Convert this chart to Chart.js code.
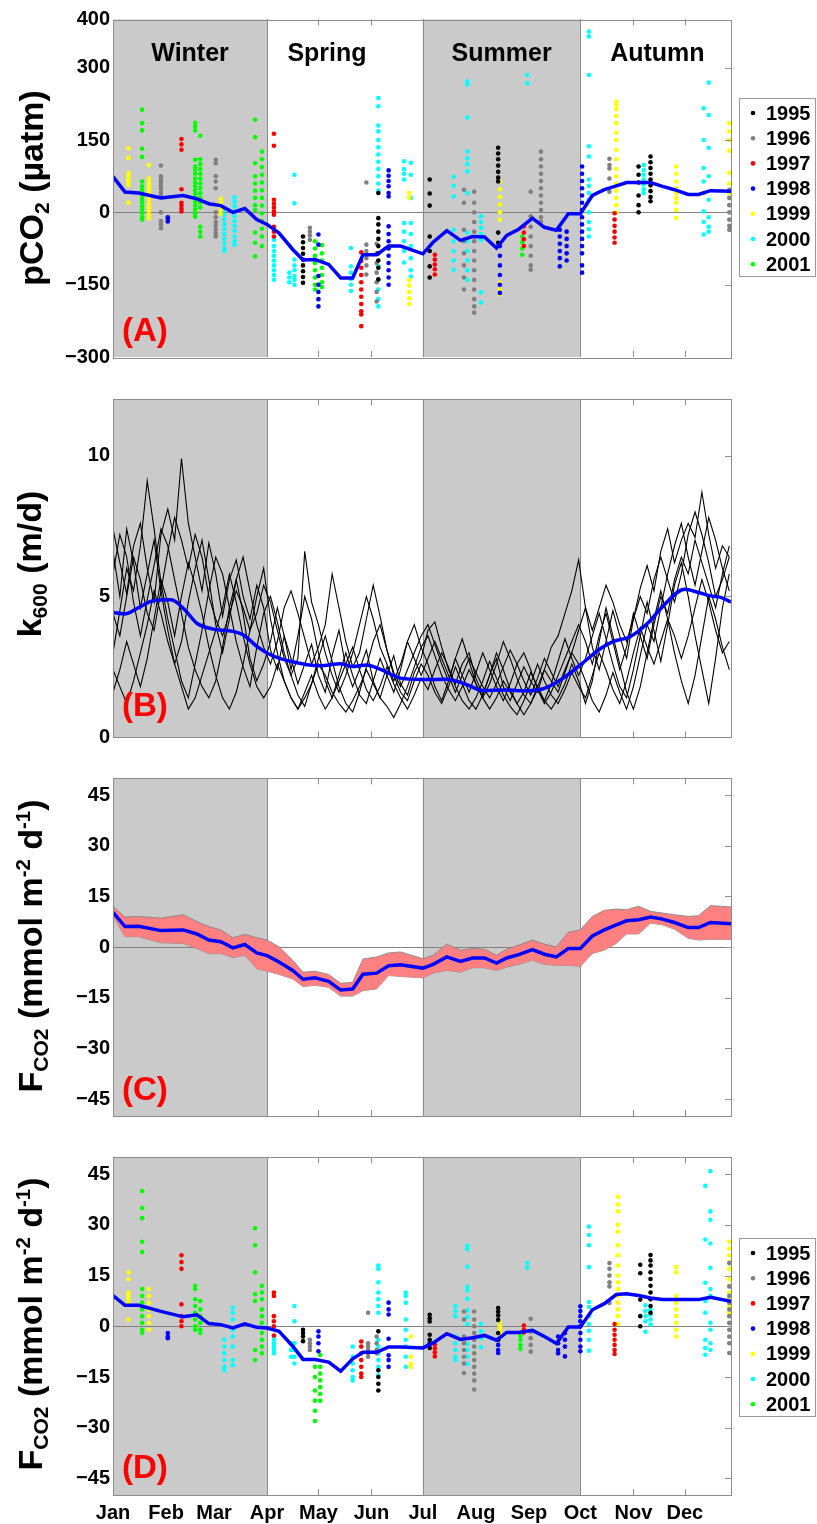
<!DOCTYPE html>
<html>
<head>
<meta charset="utf-8">
<title>pCO2, k600 y flujo de CO2</title>
<script src="https://cdn.jsdelivr.net/npm/chart.js@4.4.1/dist/chart.umd.min.js"></script>
<style>
  body { margin: 0; background: #fff; }
  #wrap { position: relative; width: 817px; height: 1524px; font-family: "Liberation Sans", Arial, sans-serif; }
  #wrap canvas { position: absolute; left: 0; }
  .ytitle { position: absolute; font-weight: bold; font-size: 34px; line-height: 1; white-space: nowrap;
            transform: translate(-50%, -50%) rotate(-90deg); color: #000; }
  .ytitle sub { font-size: 0.62em; vertical-align: -0.28em; }
  .ytitle sup { font-size: 0.6em; vertical-align: 0.62em; }
</style>
</head>
<body>
<div id="wrap">
  <canvas id="chartPco2" width="817" height="380" style="top:0px"></canvas>
  <canvas id="chartK600" width="817" height="380" style="top:380px"></canvas>
  <canvas id="chartFlujo" width="817" height="380" style="top:760px"></canvas>
  <canvas id="chartFlujoAnual" width="817" height="384" style="top:1140px"></canvas>
  <div class="ytitle" style="left:33px;top:188px">pCO<sub>2</sub> (µatm)</div>
  <div class="ytitle" style="left:31px;top:564px">k<sub>600</sub> (m/d)</div>
  <div class="ytitle" style="left:32px;top:946px">F<sub>CO2</sub> (mmol m<sup>-2</sup> d<sup>-1</sup>)</div>
  <div class="ytitle" style="left:32px;top:1324px">F<sub>CO2</sub> (mmol m<sup>-2</sup> d<sup>-1</sup>)</div>
</div>
<script>
// eje x en dias del año
const monthDays = [0, 31, 59, 90, 120, 151, 181, 212, 243, 273, 304, 334];
const monthNames = ["Jan", "Feb", "Mar", "Apr", "May", "Jun", "Jul", "Aug", "Sep", "Oct", "Nov", "Dec"];
const seasonNames = ["Winter", "Spring", "Summer", "Autumn"];
const years = ["1995", "1996", "1997", "1998", "1999", "2000", "2001"];

const pco2Ticks = [-300, -150, 0, 150, 300, 400];
const k600Ticks = [0, 5, 10];
const fluxTicks = [-45, -30, -15, 0, 15, 30, 45];

// medias (linea azul) de A, C y D
const meanDays = [0, 7, 15, 28, 41, 49, 56, 63, 70, 77, 84, 90, 97, 105, 111, 118, 126, 133, 140, 146,
  154, 161, 168, 181, 187, 195, 203, 210, 217, 224, 230, 237, 245, 252, 259, 266, 273, 280, 287, 294,
  300, 307, 314, 321, 328, 336, 342, 349, 361];
const pco2Mean = [74, 42, 40, 30, 35, 28, 18, 14, 0, 8, -15, -25, -43, -77, -99, -98, -108, -136, -136, -88,
  -88, -70, -70, -86, -62, -38, -58, -50, -51, -74, -48, -35, -12, -31, -37, -3, -3, 35, 47, 55,
  62, 62, 62, 54, 47, 37, 37, 45, 44];
const fluxMean = [10.3, 6.1, 6.2, 4.9, 5.1, 3.9, 2.1, 1.6, -0.2, 0.8, -1.7, -2.5, -4.4, -6.9, -9.5, -9.1, -10.1, -12.7, -12.4, -8,
  -7.7, -5.5, -5.2, -6.2, -5.1, -2.9, -4.2, -3.2, -3.2, -4.7, -3.2, -2.2, -0.7, -2.1, -2.9, -0.4, -0.4, 3.3, 5.1, 6.6,
  7.8, 8.1, 8.9, 8.3, 7.3, 5.8, 5.8, 7.3, 6.9];
const fluxUpper = [12.1, 8.9, 9.1, 8.6, 9.6, 7.6, 6.1, 5.1, 2.8, 3.8, 2.8, 2.1, 0.1, -3.9, -7.4, -7.1, -8.1, -10.7, -10.4, -3.5,
  -2.9, -1.7, -1.4, -3.4, -2.4, 0.9, -0.9, -0.4, -0.6, -2.4, -0.6, 0.6, 2.1, 0.9, 0.1, 4.4, 5.1, 9.1, 10.9, 11.3,
  11.1, 12.1, 10.6, 10.1, 9.6, 9.1, 9.3, 12.3, 11.9];
const fluxLower = [9.3, 3.1, 3.1, 1.3, 1.1, -0.4, -1.9, -1.9, -3.1, -2.4, -6.4, -7.1, -8.1, -9.4, -11.7, -11.3, -11.9, -14.5, -14.5, -12.9,
  -12.4, -8.4, -8.7, -9.1, -7.7, -6.9, -7.4, -6.1, -6.1, -6.9, -5.9, -5.1, -3.9, -5.1, -5.4, -5.4, -5.7, -1.9, -0.9, 1.1,
  3.9, 3.9, 7.1, 6.6, 5.3, 2.6, 2.1, 2.3, 2.3];
const fluxMeanAnual = [9.1, 6.2, 6.2, 4.4, 2.8, 3.4, 0.8, 0.5, -0.5, 0.7, -0.3, -0.5, -1.5, -5.9, -9.8, -9.8, -10.6, -13.3, -9.6, -7.7,
  -7.7, -6.1, -6.1, -6.4, -4.9, -2.2, -3.9, -3.4, -2.7, -4.1, -1.8, -1.8, -1.2, -3, -5.1, -0.2, -0.2, 4.9, 6.7, 9.4,
  9.6, 9.1, 8.4, 7.9, 7.9, 7.9, 7.9, 8.6, 7.4];

// k600 media suavizada
const kMeanDays = [0, 7, 16, 23, 34, 42, 49, 59, 70, 76, 84, 92, 104, 121, 133, 140, 148, 156, 168, 181,
  195, 207, 216, 229, 242, 252, 263, 273, 285, 292, 302, 312, 321, 334, 342, 349, 355, 361];
const kMean = [4.43, 4.38, 4.64, 4.84, 4.88, 4.52, 4.05, 3.84, 3.76, 3.64, 3.23, 2.93, 2.69, 2.54, 2.61, 2.51, 2.57, 2.42, 2.1, 2.05,
  2.06, 1.86, 1.66, 1.68, 1.65, 1.74, 2.1, 2.57, 3.16, 3.4, 3.57, 4.03, 4.64, 5.26, 5.14, 5.02, 4.97, 4.8];

// k600 diario de cada serie (cada 4 dias)
const kDays = [0, 4, 8, 12, 16, 20, 24, 28, 32, 36, 40, 44, 48, 52, 56, 60, 64, 68, 72, 76, 80, 84, 88,
  92, 96, 100, 104, 108, 112, 116, 120, 124, 128, 132, 136, 140, 144, 148, 152, 156, 160, 164, 168, 172, 176, 180,
  184, 188, 192, 196, 200, 204, 208, 212, 216, 220, 224, 228, 232, 236, 240, 244, 248, 252, 256, 260, 264, 268, 272,
  276, 280, 284, 288, 292, 296, 300, 304, 308, 312, 316, 320, 324, 328, 332, 336, 340, 344, 348, 352, 356, 360];
const k600Run1 = [7.4, 6.2, 5.1, 6.8, 7.6, 6.0, 4.8, 7.2, 8.1, 7.0, 9.9, 7.6, 6.4, 5.2, 6.9, 5.8, 4.3, 5.6, 6.3, 5.0, 4.2, 5.4, 4.6,
  3.1, 2.4, 3.6, 2.8, 1.9, 2.6, 3.3, 2.2, 1.6, 2.9, 3.8, 2.5, 1.8, 2.4, 3.1, 2.0, 1.4, 2.2, 2.9, 1.9, 1.5, 2.3, 2.8,
  3.8, 4.1, 3.2, 2.4, 1.9, 2.6, 3.0, 2.1, 1.5, 2.2, 2.8, 1.8, 1.3, 1.9, 2.5, 2.0, 1.6, 2.4, 3.2, 3.6, 4.4, 5.2, 6.3,
  4.6, 3.2, 2.4, 3.4, 4.5, 3.6, 2.8, 4.2, 5.3, 6.1, 5.2, 6.6, 7.4, 6.2, 7.0, 7.6, 7.1, 8.7, 7.2, 6.0, 6.8, 6.4];
const k600Run2 = [3.0, 4.5, 6.0, 5.2, 6.8, 9.1, 7.4, 5.5, 4.2, 3.1, 2.0, 1.4, 2.6, 3.8, 5.2, 6.4, 5.8, 4.6, 3.4, 2.5, 1.8, 3.2, 4.4,
  5.0, 4.1, 3.0, 2.2, 1.5, 1.1, 1.9, 2.8, 3.6, 2.7, 1.8, 1.2, 0.9, 1.6, 2.5, 3.4, 4.0, 3.1, 2.2, 1.6, 1.3, 2.0, 2.6,
  2.2, 1.6, 1.2, 1.8, 2.5, 1.9, 1.3, 1.0, 1.5, 2.2, 3.0, 2.4, 1.7, 1.2, 1.6, 2.3, 1.8, 1.3, 1.9, 2.7, 3.5, 2.8, 2.2,
  2.8, 3.6, 4.4, 3.5, 2.6, 1.8, 1.4, 2.4, 3.6, 4.8, 3.8, 2.7, 4.0, 5.4, 6.2, 5.0, 3.6, 2.4, 1.2, 2.8, 4.6, 5.8];
const k600Run3 = [5.8, 7.2, 6.4, 4.8, 3.6, 4.9, 6.1, 7.4, 6.8, 5.6, 4.4, 3.2, 2.4, 1.8, 1.4, 2.0, 3.2, 4.6, 5.6, 6.4, 5.2, 4.0, 3.2,
  2.6, 3.4, 4.6, 5.2, 4.4, 3.5, 2.6, 3.2, 4.0, 5.8, 4.6, 3.4, 2.5, 3.0, 4.2, 5.4, 4.3, 3.1, 2.3, 1.8, 2.4, 3.0, 3.6,
  4.0, 3.3, 2.6, 2.0, 2.8, 3.5, 2.7, 1.9, 1.4, 1.9, 2.6, 3.4, 2.8, 2.1, 1.5, 1.2, 1.8, 2.4, 2.0, 1.6, 2.3, 3.0, 2.6,
  2.0, 1.3, 0.9, 1.5, 2.3, 1.6, 1.0, 1.8, 2.9, 4.0, 3.4, 4.6, 5.8, 6.8, 7.6, 6.4, 5.4, 6.6, 7.8, 7.0, 6.0, 5.2];
const k600Run4 = [1.6, 2.4, 3.4, 2.6, 1.8, 2.8, 4.2, 5.6, 4.8, 3.6, 5.0, 6.2, 5.4, 4.4, 3.2, 2.2, 1.4, 1.0, 1.6, 2.6, 3.8, 5.0, 6.0,
  4.2, 3.0, 2.0, 1.4, 1.0, 1.6, 2.2, 1.5, 1.0, 1.4, 2.0, 2.6, 3.2, 2.4, 1.7, 1.3, 1.8, 2.5, 1.9, 1.4, 1.0, 1.5, 2.1,
  1.7, 2.4, 3.0, 2.5, 1.8, 1.3, 1.0, 1.4, 2.0, 2.7, 2.1, 1.5, 1.1, 0.8, 1.3, 1.9, 2.6, 2.0, 1.5, 1.2, 1.7, 2.3, 1.8,
  1.4, 2.2, 3.0, 2.4, 1.7, 1.2, 2.0, 3.0, 3.9, 3.2, 2.6, 3.4, 4.2, 3.6, 2.8, 3.6, 4.6, 5.6, 4.8, 3.8, 3.0, 3.4];
const k600Run5 = [4.4, 3.6, 5.0, 6.4, 5.6, 4.4, 3.8, 5.2, 6.6, 7.8, 7.0, 6.0, 7.2, 6.4, 5.0, 4.2, 3.6, 4.4, 5.2, 4.6, 3.8, 4.4, 5.4,
  4.8, 3.8, 2.8, 2.2, 2.8, 6.6, 4.8, 4.0, 3.0, 2.2, 1.6, 2.2, 3.0, 4.0, 5.0, 4.2, 3.2, 2.6, 2.0, 2.6, 3.4, 2.8, 2.2,
  2.8, 3.4, 2.8, 2.2, 1.6, 2.2, 2.8, 2.3, 1.8, 1.4, 1.9, 2.5, 3.1, 2.6, 2.0, 1.5, 2.1, 2.8, 2.3, 1.8, 2.4, 3.0, 3.8,
  4.6, 3.8, 4.6, 5.4, 4.8, 4.0, 3.4, 4.2, 5.0, 4.4, 5.6, 6.4, 5.6, 4.8, 5.8, 7.2, 8.0, 7.2, 6.2, 5.0, 5.6, 6.4];
const k600Run6 = [2.4, 1.8, 1.2, 2.0, 3.0, 4.0, 5.2, 4.4, 3.4, 2.6, 1.8, 1.0, 1.4, 2.2, 3.0, 3.8, 4.6, 5.8, 4.8, 3.6, 2.6, 1.8, 1.4,
  1.8, 2.6, 2.0, 1.4, 1.0, 1.4, 1.9, 2.6, 2.2, 1.6, 1.2, 0.9, 1.3, 1.8, 2.4, 1.9, 1.4, 1.1, 0.7, 1.2, 1.8, 2.5, 3.2,
  3.6, 2.9, 2.2, 1.7, 1.3, 1.8, 2.4, 1.9, 1.4, 1.0, 1.4, 2.0, 1.6, 1.2, 0.8, 1.2, 1.7, 1.3, 1.0, 1.4, 1.9, 2.6, 2.0,
  1.2, 2.0, 3.4, 4.6, 3.6, 2.6, 1.6, 1.0, 1.8, 3.0, 4.2, 5.2, 4.2, 3.0, 2.0, 1.2, 2.2, 3.6, 5.0, 4.2, 3.2, 2.4];
const k600Run7 = [6.6, 5.0, 7.4, 6.2, 4.6, 5.8, 7.0, 5.2, 3.8, 2.6, 3.4, 4.8, 6.0, 7.0, 5.6, 4.0, 3.0, 4.2, 5.6, 4.4, 2.8, 2.0, 2.6,
  3.4, 4.6, 3.6, 2.4, 3.6, 5.0, 4.2, 3.0, 2.0, 1.4, 2.2, 3.0, 2.2, 1.5, 1.2, 2.0, 2.8, 2.2, 1.6, 2.4, 3.4, 4.0, 3.2,
  2.6, 1.8, 1.3, 2.0, 2.8, 2.2, 1.6, 2.3, 3.0, 2.4, 1.8, 1.3, 1.9, 2.6, 3.0, 2.4, 1.7, 1.2, 1.6, 2.2, 2.8, 3.4, 4.0,
  3.4, 2.6, 3.6, 4.4, 3.4, 2.4, 3.2, 4.4, 3.6, 2.8, 4.0, 5.0, 4.4, 5.6, 6.4, 5.8, 7.0, 6.2, 5.4, 4.6, 5.8, 6.8];

// medidas de pCO2 por año: [dia, valores...]
const pco2_1995 = [[111, -50, -62, -74, -86, -98, -110, -122, -134, -146], [155, 40, -12, -25, -40, -55, -70, -85, -100, -115, -139],
  [185, 68, 39, 14, -50, -80, -112, -135], [225, 134, 122, 110, 97, 84, 72, 64, -42, -63],
  [307, 95, 78, 62, 35, 15, 0], [314, 116, 104, 92, 80, 68, 56, 44, 32, 23]];
const pco2_1996 = [[28, 97, 75, 68, 62, 55, 48, 40, 33, 0, -18, -25, -33], [60, 109, 102, 75, 64, 50, 0, -10, -20, -28, -36, -44, -50],
  [115, -32, -40, -48, -57], [148, 62, -67, -80, -95, -110, -129], [154, -65, -85, -105, -125, -145, -165, -185],
  [205, 47, 20, -36, -60, -85, -110, -135, -160], [211, 43, 20, 0, -20, -40, -60, -80, -100, -120, -140, -160, -180, -195, -208],
  [244, 43, -8, -30, -50, -70, -90, -110, -119], [250, 126, 110, 95, 80, 65, 50, 35, 20, 5, -10, -19],
  [290, 111, 98, 91, 70, 43], [360, 47, 30, 15, 0, -15, -28, -36]];
const pco2_1997 = [[40, 152, 141, 130, 48, 20, 14, 8, 2], [94, 163, 138, 26, 18, 10, 2, -5, -30, -40, -50],
  [145, -83, -101, -115, -130, -145, -160, -175, -190, -205, -212, -236], [188, -88, -98, -108, -118, -129],
  [240, -29, -42, -56, -70], [293, -2, -15, -28, -40, -52, -63]];
const pco2_1998 = [[32, -10, -14, -19], [120, -46, -67, -132, -150, -165, -180, -195],
  [161, 87, 76, 65, 54, 40, 33, -29, -45, -60, -75, -90, -105, -120, -135, -150], [226, -70, -90, -110, -130, -150, -167],
  [261, -36, -50, -65, -80, -95, -112], [265, -40, -55, -70, -85, -100],
  [274, 95, 80, 65, 50, 35, 20, 5, -10, -25, -40, -55, -70, -85, -110, -125]];
const pco2_1999 = [[9, 133, 113, 82, 75, 68, 62, 57, 20], [21, 98, 70, 62, 55, 48, 41, 33, 26, 18, 10, 3, -5, -12],
  [63, 28, 20, 12, 5, -3], [173, 40, 30, -140, -152, -165, -178, -190], [226, 64, 48, 32, 16, 0, -15, -146, -160, -170],
  [294, 230, 222, 214, 200, 185, 165, 150, 130, 110, 90, 75, 60, 45, 30, 15, 0], [329, 95, 80, 64, 50, 40, 30, 20, 5, -12],
  [360, 185, 168, 150, 128, 82, 60, 40]];
const pco2_2000 = [[65, 5, -5, -15, -25, -35, -45, -55, -65, -75, -80], [71, 31, 22, 12, 2, -8, -18, -28, -38, -50, -60, -67],
  [94, -57, -70, -80, -90, -100, -110, -120, -130, -140], [103, -125, -135, -145], [106, 78, 19, -98, -110, -120, -132, -140, -150],
  [139, -74, -112, -125, -138, -150, -163], [155, 237, 220, 180, 168, 150, 135, 120, 105, 90, 75, 60, 45, -112, -140, -160, -180, -195],
  [170, 106, 90, 80, 68, -22, -40, -60, -80, -104], [174, 103, 78, 30, -22, -45, -70, -95, -120, -133],
  [199, 74, 55, 33, -36, -60, -80, -100, -119], [207, 272, 265, 197, 126, 112, 100, 85, 40, -42, -60, -80, -100, -120, -140],
  [215, -8, -20, -32, -45, -57, -166, -187], [242, 285, 268], [278, 375, 365, 285, 137, 116, 68, 55, 40, 26, 0, -20, -35, -50],
  [310, 98, 88, 78, 68, 58, 48, 40], [345, 216, 150, 92, 64, 40, 2, -20, -46], [348, 269, 202, 134, 75, 26, -10, -30, -40]];
const pco2_2001 = [[17, 213, 185, 170, 132, 115, 64, 54, 47, 40, 32, 26, 20, 12, 5, -2, -10, -15],
  [48, 186, 178, 170, 109, 95, 88, 80, 70, 62, 54, 46, 38, 30, 22, 14, 6, -2, -9],
  [51, 159, 110, 100, 90, 80, 70, 60, 50, 40, 30, 20, 10, -30, -40, -50], [83, 192, 156, 102, 75, 60, 45, 30, 15, 5, -42, -63, -91],
  [87, 126, 110, 94, 78, 62, 46, 30, 14, -2, -18, -34, -50, -70], [118, -60, -75, -90, -105, -120, -135, -150, -160],
  [122, -68, -85, -100, -115, -130, -145, -155], [239, -50, -62, -75, -88]];

// flujo de CO2 por año: [dia, valores...]
const flux_1995 = [[111, -1, -2, -3, -4.4], [155, -1.5, -13, -15, -17, -19], [185, 3.4, 2.4, 1.4, -2.5, -4, -5, -6.4],
  [225, 5.4, 4.3, 3.2, 1.9, -2, -4], [308, 18.2, 15.7, 7.9, 3, 0], [314, 21.1, 19.5, 18, 16, 14, 12, 10, 8, 6, 4]];
const flux_1996 = [[115, -4, -5, -6, -7], [149, 4, -5, -6, -7, -8, -9], [154, -3, -5, -7, -8],
  [205, 4.4, 2, -3, -5, -7, -9, -11, -13.8], [211, 4.4, 2, 0, -2, -4, -6, -8, -10, -12, -14, -16, -18.7],
  [244, 2.2, -1.6, -3.5, -5.5, -7.5], [290, 18.7, 17, 15, 13, 11.8, 6.9], [360, 18.7, 11.8, 9, 7, 5, 3, 1, -1, -3, -5, -7.9]];
const flux_1997 = [[40, 21, 19, 17, 6.5, 3, 1.5, 0], [94, 10, 9, 3, 1.5, 0, -2.7], [145, -4.5, -6, -8, -10, -12, -14, -15],
  [188, -5.4, -6.5, -7.7, -8.9], [240, 0.2, -1, -1.8], [293, 0.7, -1, -2.5, -4, -5.5, -7, -8.2]];
const flux_1998 = [[32, -2, -3, -3.5], [120, -1.5, -3, -5, -7.4], [161, 7, 5, 3.5, -3.7, -8.6, -10, -12], [225, -4, -5.5, -7, -7.9],
  [260, -3, -5, -7, -8], [264, -2, -4, -6, -8.9], [273, 5.9, 4.5, 3, 1.5, 0, -2, -4, -6, -7.4]];
const flux_1999 = [[9, 16, 14, 10, 9, 8, 7, 2], [21, 11, 9, 7, 5, 3, 1, -1], [174, -3, -9, -11, -12], [226, 1.4, 0, -1, -2],
  [295, 38.3, 36, 34, 30, 28, 24, 21, 18, 15, 13, 11, 9, 7, 5, 3, 0.7], [329, 17.5, 16, 9, 7, 5, 3, 1, -1, -3],
  [360, 25, 23, 21, 19, 17, 14, 12, 10, 8, 6, 4]];
const flux_2000 = [[65, -4, -6, -8, -10, -12, -13], [70, 5.5, 4, 2, -1, -3, -6, -10, -11.5], [94, -3, -4, -5, -6, -7, -8],
  [104, -5, -7, -9], [106, 6, 1.5, -5, -7, -9, -11], [140, -6, -9, -11, -13, -15, -16],
  [155, 18, 17, 13, 10, 8, 6, 4, -4, -6, -8, -10, -12, -14.5], [171, 10, 9, 7, 2, -1, -4, -6, -9, -12],
  [200, 6, 4.5, 3, -3, -5, -7, -9, -10], [207, 23.8, 22.8, 17.6, 11.7, 10.6, 8.1, 4.7, 2.7, 0.7, -5.2, -7, -9, -11.1],
  [215, 0.7, -1.5, -3.5, -6.2], [242, 18.7, 17.3], [278, 29.5, 27, 24, 17.5, 7.2, 5.7, 3, 0.7, -1.3, -4, -7.2],
  [311, 6.2, 4.5, 3, 1.5, -1.6], [314, 5, 3.5, 2, 0.5], [346, 41.6, 25.7, 12.9, 7.5, 4, -4, -6.4, -8.4],
  [349, 45.9, 34, 31.5, 24.5, 17.3, 11, 9, 1, -1, -5, -7]];
const flux_2001 = [[17, 40, 35, 32, 25, 22, 11, 9, 7, 5, 3, 1, -1, -2], [48, 12, 11, 8, 6, 4, 2, 0, -1], [51, 7.5, 5, 3, 1, -1, -2],
  [83, 29, 24, 16, 9.5, 7.5, -7, -10], [87, 12, 10, 8, 5, 3, 1, -2, -4, -6, -8], [118, -12, -15, -19, -22, -25, -28],
  [121, -8.5, -12, -14, -16, -18, -20, -22], [238, -2.8, -4, -5.5, -6.7]];

const yearColors = ["#000000", "#808080", "#ff0000", "#0000ff", "#ffff00", "#00ffff", "#00ff00"];
const shadeSpans = [[0, 90], [181, 273]];

Chart.defaults.font.family = '"Liberation Sans", Arial, Helvetica, sans-serif';
Chart.defaults.color = "#000";

const toPoints = cols => cols.flatMap(([d, ...vals]) => vals.map(v => ({ x: d, y: v })));
const toXY = (xs, ys) => xs.map((x, i) => ({ x, y: ys[i] }));

// sombreado de invierno/verano, marco, ticks interiores, textos y leyenda
const panelDeco = {
  id: "panelDeco",
  beforeDatasetsDraw(chart, args, opt) {
    const { ctx, chartArea: a, scales: { x, y } } = chart;
    ctx.save();
    shadeSpans.forEach(([d0, d1]) => {
      const x0 = x.getPixelForValue(d0), x1 = x.getPixelForValue(d1);
      ctx.fillStyle = "#cacaca";
      ctx.fillRect(x0, a.top, x1 - x0, a.bottom - a.top);
      ctx.strokeStyle = "#8c8c8c";
      ctx.lineWidth = 1;
      ctx.beginPath();
      ctx.moveTo(Math.round(x1) + 0.5, a.top);
      ctx.lineTo(Math.round(x1) + 0.5, a.bottom);
      if (d0 > 0) {
        ctx.moveTo(Math.round(x0) + 0.5, a.top);
        ctx.lineTo(Math.round(x0) + 0.5, a.bottom);
      }
      ctx.stroke();
    });
    if (opt.zero) {
      const y0 = Math.round(y.getPixelForValue(0)) + 0.5;
      ctx.strokeStyle = "#808080";
      ctx.lineWidth = 1.2;
      ctx.beginPath();
      ctx.moveTo(a.left, y0);
      ctx.lineTo(a.right, y0);
      ctx.stroke();
    }
    ctx.restore();
  },
  afterDraw(chart, args, opt) {
    const { ctx, chartArea: a, scales: { x, y } } = chart;
    ctx.save();
    ctx.strokeStyle = "#8c8c8c";
    ctx.lineWidth = 1;
    ctx.strokeRect(Math.round(a.left) + 0.5, Math.round(a.top) + 0.5, Math.round(a.right - a.left), Math.round(a.bottom - a.top));

    ctx.beginPath();
    monthDays.forEach(d => {
      if (d === 0 || shadeSpans.some(([s0, s1]) => d > s0 && d < s1)) return;
      const px = Math.round(x.getPixelForValue(d)) + 0.5;
      ctx.moveTo(px, a.top); ctx.lineTo(px, a.top + 6);
      ctx.moveTo(px, a.bottom); ctx.lineTo(px, a.bottom - 6);
    });
    y.ticks.forEach(t => {
      if (t.value <= y.min || t.value >= y.max) return;
      const py = Math.round(y.getPixelForValue(t.value)) + 0.5;
      ctx.moveTo(a.right, py); ctx.lineTo(a.right - 6, py);
    });
    ctx.stroke();

    ctx.fillStyle = "#000";
    ctx.textAlign = "center";
    ctx.textBaseline = "middle";
    if (opt.seasons) {
      ctx.font = 'bold 25px "Liberation Sans", Arial, sans-serif';
      opt.seasons.forEach((d, i) => ctx.fillText(seasonNames[i], x.getPixelForValue(d), a.top + 35));
    }

    ctx.fillStyle = "#ff0000";
    ctx.textAlign = "left";
    ctx.font = 'bold 33px "Liberation Sans", Arial, sans-serif';
    ctx.fillText(opt.letter, a.left + 9, a.bottom - opt.letterUp);

    if (opt.legend) {
      const b = opt.legend;
      ctx.fillStyle = "#fff";
      ctx.fillRect(b.x, b.y, b.w, b.h);
      ctx.strokeStyle = "#999";
      ctx.strokeRect(b.x + 0.5, b.y + 0.5, b.w, b.h);
      ctx.font = 'bold 20px "Liberation Sans", Arial, sans-serif';
      chart.data.datasets.filter(ds => years.includes(ds.label)).forEach((ds, i) => {
        const cy = b.y + 15 + i * 25.2;
        ctx.fillStyle = ds.pointBackgroundColor;
        ctx.beginPath();
        ctx.arc(b.x + 14, cy, 2.3, 0, Math.PI * 2);
        ctx.fill();
        ctx.fillStyle = "#000";
        ctx.fillText(ds.label, b.x + 27, cy + 1);
      });
    }
    ctx.restore();
  }
};

function ejeX(conEtiquetas, alto) {
  return {
    type: "linear", min: 0, max: 361,
    grid: { display: false, drawTicks: false }, border: { display: false },
    afterBuildTicks: s => { s.ticks = monthDays.map(v => ({ value: v })); },
    afterFit: s => { s.height = alto; },
    ticks: {
      display: conEtiquetas, autoSkip: false, maxRotation: 0, padding: 6,
      font: { size: 20, weight: "bold" },
      callback: v => monthNames[monthDays.indexOf(v)]
    }
  };
}

function ejeY(min, max, valores) {
  return {
    min, max,
    grid: { display: false, drawTicks: false }, border: { display: false },
    afterBuildTicks: s => { s.ticks = valores.map(v => ({ value: v })); },
    afterFit: s => { s.width = 113; },
    ticks: { padding: 3, font: { size: 20, weight: "bold" }, callback: v => String(v).replace("-", "\u2212") }
  };
}

function puntosPorAnio(lista) {
  return lista.map((cols, i) => ({
    type: "scatter", label: years[i], data: toPoints(cols),
    pointRadius: 2.3, pointBackgroundColor: yearColors[i], pointBorderWidth: 0,
    borderColor: yearColors[i], showLine: false, order: 2
  }));
}

function lineaMedia(xs, ys, suave) {
  return {
    type: "line", label: "media", data: toXY(xs, ys),
    borderColor: "#0000ff", borderWidth: 3.5, pointRadius: 0, fill: false,
    tension: suave ? 0.4 : 0, cubicInterpolationMode: suave ? "monotone" : "default", order: 0
  };
}

function crearPanel(id, datasets, y, pad, altoX, conMeses, deco) {
  return new Chart(document.getElementById(id), {
    type: "scatter",
    data: { datasets },
    options: {
      responsive: false, animation: false, devicePixelRatio: 1, events: [],
      layout: { padding: { left: 0, right: 86, top: pad[0], bottom: pad[1] } },
      scales: { x: ejeX(conMeses, altoX), y },
      plugins: { legend: { display: false }, tooltip: { enabled: false }, panelDeco: deco }
    },
    plugins: [panelDeco]
  });
}

const leyendaCaja = { x: 739, y: 98, w: 76, h: 178 };

// (A) pCO2
crearPanel("chartPco2",
  [lineaMedia(meanDays, pco2Mean, false),
   ...puntosPorAnio([pco2_1995, pco2_1996, pco2_1997, pco2_1998, pco2_1999, pco2_2000, pco2_2001])],
  ejeY(-300, 400, pco2Ticks), [19.5, 23], 0, false,
  { zero: true, letter: "(A)", letterUp: 25, seasons: [45, 125, 227, 318], legend: leyendaCaja });

// (B) k600
const runs = [k600Run1, k600Run2, k600Run3, k600Run4, k600Run5, k600Run6, k600Run7];
crearPanel("chartK600",
  [lineaMedia(kMeanDays, kMean, true),
   ...runs.map(r => ({ type: "line", label: "k600", data: toXY(kDays, r), borderColor: "#000", borderWidth: 1.1,
     pointRadius: 0, fill: false, tension: 0, order: 1 }))],
  ejeY(0, 12, k600Ticks), [19.3, 22.7], 0, false,
  { zero: false, letter: "(B)", letterUp: 30 });

// (C) flujo medio con su rango
crearPanel("chartFlujo",
  [lineaMedia(meanDays, fluxMean, false),
   { type: "line", label: "max", data: toXY(meanDays, fluxUpper), borderColor: "#7f7f7f", borderWidth: 0.8,
     pointRadius: 0, backgroundColor: "#ff8080", fill: "+1", tension: 0, order: 1 },
   { type: "line", label: "min", data: toXY(meanDays, fluxLower), borderColor: "#7f7f7f", borderWidth: 0.8,
     pointRadius: 0, fill: false, tension: 0, order: 1 }],
  ejeY(-50, 50, fluxTicks), [18.3, 24], 0, false,
  { zero: true, letter: "(C)", letterUp: 25 });

// (D) flujo por año
crearPanel("chartFlujoAnual",
  [lineaMedia(meanDays, fluxMeanAnual, false),
   ...puntosPorAnio([flux_1995, flux_1996, flux_1997, flux_1998, flux_1999, flux_2000, flux_2001])],
  ejeY(-50, 50, fluxTicks), [17.3, 0], 28.7, true,
  { zero: true, letter: "(D)", letterUp: 26, legend: leyendaCaja });
</script>
</body>
</html>
